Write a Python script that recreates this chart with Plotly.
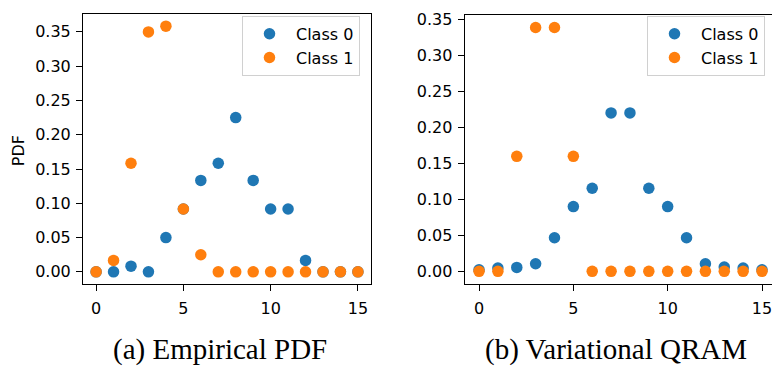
import plotly.graph_objects as go

# Bin index (0..15) shared by both panels
bins = list(range(16))

# (a) Empirical PDF: relative frequencies over 120 samples per class
empirical_class0 = [0, 0, 1, 0, 6, 11, 16, 19, 27, 16, 11, 11, 2, 0, 0, 0]
empirical_class1 = [0, 2, 19, 42, 43, 11, 3, 0, 0, 0, 0, 0, 0, 0, 0, 0]
empirical_class0 = [c / 120 for c in empirical_class0]
empirical_class1 = [c / 120 for c in empirical_class1]

# (b) Variational QRAM: loaded distributions
qram_class0 = [0.0023, 0.0046, 0.0055, 0.0105, 0.0467, 0.0901, 0.1157, 0.2205,
               0.2205, 0.1157, 0.0901, 0.0467, 0.0105, 0.0060, 0.0046, 0.0023]
qram_class1 = [0.0, 0.0, 0.160, 0.3394, 0.3394, 0.160, 0.0, 0.0,
               0.0, 0.0, 0.0, 0.0, 0.0, 0.0, 0.0, 0.0]

series_names = ["Class 0", "Class 1"]
colors = ["#1f77b4", "#ff7f0e"]
captions = ["(a) Empirical PDF", "(b) Variational QRAM"]
x_ticks = [0, 5, 10, 15]
y_ticks = [0.0, 0.05, 0.10, 0.15, 0.20, 0.25, 0.30, 0.35]

W, H = 772, 366
TICK_FONT = dict(family="DejaVu Sans", size=16, color="black")
MARKER_SIZE = 11.5

fig = go.Figure()

panels = [
    dict(data=[empirical_class0, empirical_class1], xa="x", ya="y", legend="legend"),
    dict(data=[qram_class0, qram_class1], xa="x2", ya="y2", legend="legend2"),
]
for p in panels:
    for name, vals, col in zip(series_names, p["data"], colors):
        fig.add_trace(go.Scatter(
            x=bins, y=vals, mode="markers", name=name,
            marker=dict(color=col, size=MARKER_SIZE, line=dict(width=0)),
            xaxis=p["xa"], yaxis=p["ya"], legend=p["legend"],
            cliponaxis=False,
        ))

def px_x(v):
    return v / W

def px_y(v):
    return (H - v) / H

axis_common = dict(
    showgrid=False, zeroline=False, showline=True, linecolor="black", linewidth=1.1,
    ticks="outside", ticklen=6, tickwidth=1.1, tickcolor="black",
    tickfont=TICK_FONT, ticklabeloverflow="allow",
)
x_common = dict(tickvals=x_ticks, ticklabelstandoff=4, **axis_common)
y_common = dict(tickvals=y_ticks, tickformat=".2f", ticklabelstandoff=2, **axis_common)

max_a = max(max(empirical_class0), max(empirical_class1))
max_b = max(max(qram_class0), max(qram_class1))

legend_style = dict(
    xanchor="left", yanchor="top",
    bgcolor="rgba(255,255,255,0.8)", bordercolor="#d0d0d0", borderwidth=1,
    font=dict(family="DejaVu Sans", size=16, color="black"),
    itemwidth=43,
)

fig.update_layout(
    width=W, height=H,
    margin=dict(l=0, r=0, t=0, b=0),
    paper_bgcolor="white", plot_bgcolor="white",
    xaxis=dict(domain=[px_x(83), px_x(371)], range=[-0.75, 15.75], anchor="y",
               mirror=True, **x_common),
    yaxis=dict(domain=[px_y(283), px_y(9)], range=[-0.05 * max_a, 1.05 * max_a],
               anchor="x", mirror=True, **y_common),
    xaxis2=dict(domain=[px_x(464.7), 1.0], range=[-0.76, 15.53], anchor="y2",
                mirror=True, **x_common),
    yaxis2=dict(domain=[px_y(282.4), px_y(10.4)], range=[-0.05 * max_b, 1.05 * max_b],
                anchor="x2", mirror=False, **y_common),
    legend=dict(x=px_x(242), y=px_y(11), **legend_style),
    legend2=dict(x=px_x(647), y=px_y(11), **legend_style),
    showlegend=True,
)

caption_font = dict(family="Liberation Serif", size=29, color="black")
annotations = [
    dict(text="PDF", x=px_x(18.7), y=px_y(147.5), xref="paper", yref="paper",
         showarrow=False, textangle=-90, xanchor="center", yanchor="middle",
         font=dict(family="DejaVu Sans", size=16, color="black")),
    dict(text=captions[0], x=px_x(220), y=px_y(349.5), xref="paper", yref="paper",
         showarrow=False, xanchor="center", yanchor="middle", font=caption_font),
    dict(text=captions[1], x=px_x(616), y=px_y(349.5), xref="paper", yref="paper",
         showarrow=False, xanchor="center", yanchor="middle", font=caption_font),
]
fig.update_layout(annotations=annotations)

fig.write_html("out.html")
